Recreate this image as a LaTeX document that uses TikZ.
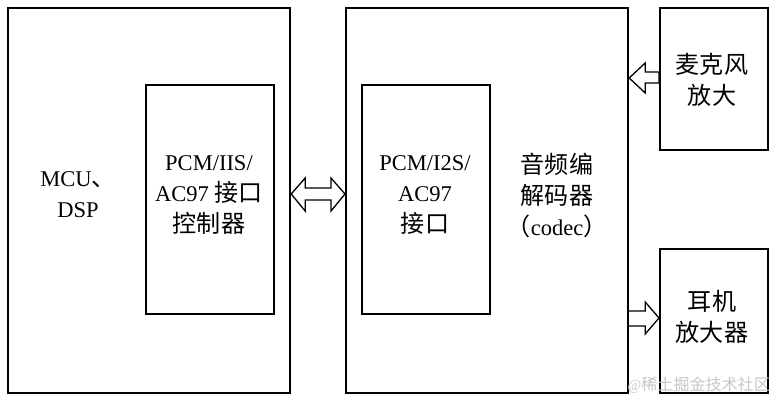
\documentclass[tikz,border=0pt]{standalone}
\usepackage{fontspec}
\setmainfont{Liberation Serif}
\newfontfamily\cjk[Scale=1.07]{Noto Sans CJK SC}
\usetikzlibrary{calc}
\begin{document}
\begin{tikzpicture}[x=1pt,y=-1pt,
  outerbox/.style={draw, line width=2.2pt, anchor=north west, inner sep=0pt},
  innerbox/.style={draw, line width=1.6pt, anchor=north west, inner sep=0pt},
  lbl/.style={align=center, inner sep=0pt, font=\fontsize{22.5}{31}\selectfont},
  blk/.style={draw, line width=1.3pt, fill=white, line join=miter}]
\useasboundingbox (0,0) rectangle (774,401);
% boxes
\node[outerbox, minimum width=282pt, minimum height=385pt] (mcu) at (7,7) {};
\node[innerbox, minimum width=128pt, minimum height=229pt] (ctl) at (145,84) {};
\node[outerbox, minimum width=282pt, minimum height=385pt] (codec) at (345,7) {};
\node[innerbox, minimum width=128pt, minimum height=229pt] (itf) at (361,84) {};
\node[outerbox, minimum width=108pt, minimum height=142pt] (mic) at (659,7) {};
\node[outerbox, minimum width=108pt, minimum height=144pt] (hp) at (659,248) {};
% labels
\node[lbl] (mcut) at (78,195) {MCU{\cjk 、}\\DSP};
\node[lbl] (ctlt) at (209,195) {PCM/IIS/\\AC97 {\cjk 接口}\\{\cjk 控制器}};
\node[lbl] (itft) at (425,195) {PCM/I2S/\\AC97\\{\cjk 接口}};
\node[lbl] (codect) at (557,195) {{\cjk 音频编}\\{\cjk 解码器}\\{\cjk （}codec{\cjk ）}};
\node[lbl] (mict) at (712,80) {{\cjk 麦克风}\\{\cjk 放大}};
\node[lbl] (hpt) at (712,317) {{\cjk 耳机}\\{\cjk 放大器}};
% helper levels
\coordinate (yd) at (0,194);
\coordinate (ym) at (0,78);
\coordinate (yh) at (0,318);
% double arrow MCU <-> codec
\draw[blk] (mcu.east |- yd)
  -- ++(14,-16) -- ++(0,10) -- ($(codec.west |- yd)+(-14,-6)$) -- ++(0,-10)
  -- (codec.west |- yd)
  -- ++(-14,17) -- ++(0,-11) -- ($(mcu.east |- yd)+(14,6)$) -- ++(0,11) -- cycle;
% mic arrow
\draw[blk] (codec.east |- ym)
  -- ++(16,-15) -- ++(0,9) -- (mic.west |- 0,72) -- (mic.west |- 0,83)
  -- ($(codec.east |- ym)+(16,5)$) -- ++(0,10) -- cycle;
% headphone arrow
\draw[blk] (codec.east |- 0,311) -- ++(16,0) -- ++(0,-9) -- (hp.west |- yh)
  -- ($(codec.east |- yh)+(16,16)$) -- ++(0,-8) -- (codec.east |- 0,326);
% watermark
\node[inner sep=0pt, anchor=east, text=black!22, font=\fontsize{15}{15}\selectfont] (wm) at (770,385) {@{\cjk 稀土掘金技术社区}};
\end{tikzpicture}
\end{document}
